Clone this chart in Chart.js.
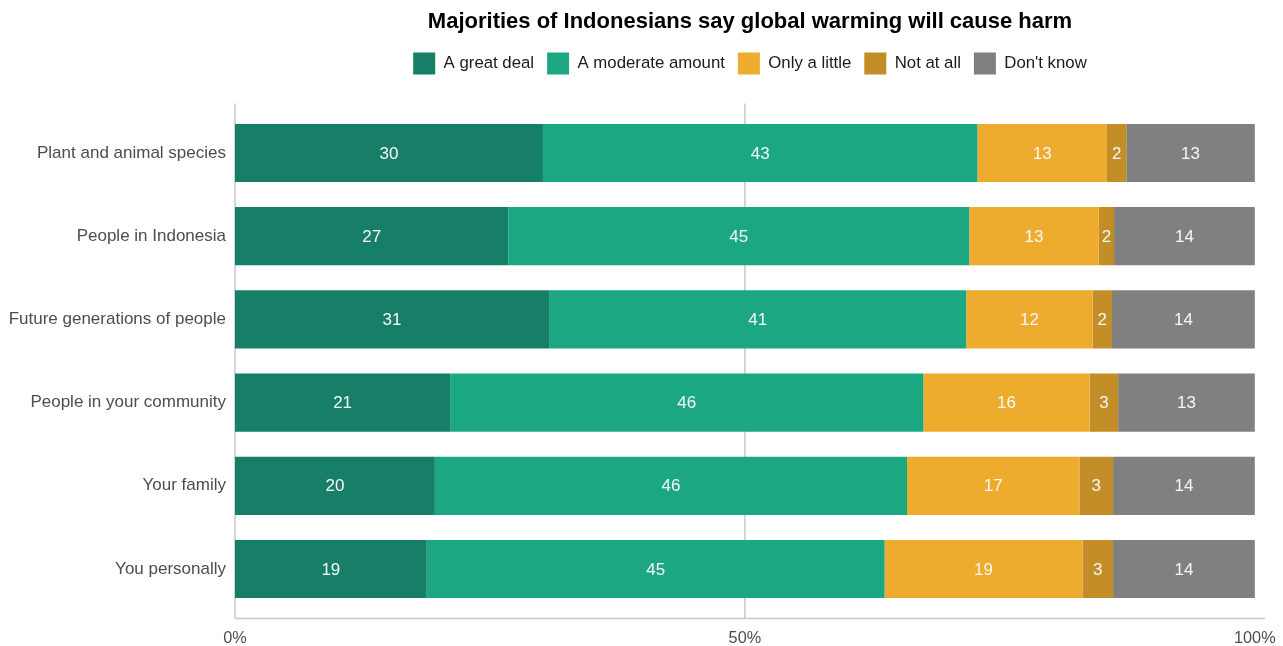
<!DOCTYPE html>
<html>
<head>
<meta charset="utf-8">
<script src="https://cdn.jsdelivr.net/npm/chart.js@4/dist/chart.umd.min.js"></script>
<style>
  html, body { margin: 0; padding: 0; background: #fff; }
  #wrap { width: 1283px; height: 646px; }
</style>
</head>
<body>
<div id="wrap"><canvas id="harmChart"></canvas></div>
<script>
// categories and shares (%)
const categories = [
  'Plant and animal species',
  'People in Indonesia',
  'Future generations of people',
  'People in your community',
  'Your family',
  'You personally'
];
const greatDeal  = [30.2, 26.8, 30.8, 21.1, 19.6, 18.8];
const moderate   = [42.6, 45.2, 40.9, 46.4, 46.3, 44.9];
const onlyLittle = [12.7, 12.7, 12.4, 16.3, 16.9, 19.4];
const notAtAll   = [1.9, 1.5, 1.9, 2.8, 3.3, 3.0];
const dontKnow   = [12.6, 13.8, 14.0, 13.4, 13.9, 13.9];
const xTicks = [0, 50, 100];

const FONT = "'Liberation Sans', Arial, Helvetica, sans-serif";

// axis lines + 50% rule, a bit longer than the bars like the original
const axisLines = {
  id: 'axisLines',
  beforeDatasetsDraw(chart) {
    const {ctx, chartArea, scales} = chart;
    const x0 = scales.x.getPixelForValue(0);
    const xMid = scales.x.getPixelForValue(50);
    const top = chartArea.top - 8;
    const bottom = chartArea.bottom + 8;
    ctx.save();
    ctx.strokeStyle = '#c8c8c8';
    ctx.lineWidth = 1.5;
    ctx.beginPath();
    ctx.moveTo(x0, top); ctx.lineTo(x0, bottom);
    ctx.moveTo(xMid, top); ctx.lineTo(xMid, bottom);
    ctx.moveTo(x0, bottom); ctx.lineTo(chartArea.right, bottom);
    ctx.stroke();
    ctx.restore();
  }
};

// rounded value in the middle of each segment
const segmentLabels = {
  id: 'segmentLabels',
  afterDatasetsDraw(chart) {
    const {ctx} = chart;
    ctx.save();
    ctx.font = '17px ' + FONT;
    ctx.fillStyle = '#f7f7f7';
    ctx.textAlign = 'center';
    ctx.textBaseline = 'middle';
    chart.data.datasets.forEach((ds, i) => {
      chart.getDatasetMeta(i).data.forEach((bar, j) => {
        const cx = (bar.x + bar.base) / 2;
        ctx.fillText(String(Math.round(ds.data[j])), cx, bar.y + 1);
      });
    });
    ctx.restore();
  }
};

// extra white space under the legend
const legendGap = {
  id: 'legendGap',
  afterInit(chart) {
    const lg = chart.legend;
    if (!lg || lg._gapPatched) return;
    const fit = lg.fit;
    lg.fit = function () {
      fit.call(this);
      this.height += 27;
    };
    lg._gapPatched = true;
  }
};

const ctx = document.getElementById('harmChart').getContext('2d');
const harmChart = new Chart(ctx, {
  type: 'bar',
  data: {
    labels: categories,
    datasets: [
      { label: 'A great deal', data: greatDeal, backgroundColor: '#177f67' },
      { label: 'A moderate amount', data: moderate, backgroundColor: '#1ca783' },
      { label: 'Only a little', data: onlyLittle, backgroundColor: '#edac2e' },
      { label: 'Not at all', data: notAtAll, backgroundColor: '#c38e28' },
      { label: "Don't know", data: dontKnow, backgroundColor: '#808080' }
    ]
  },
  options: {
    indexAxis: 'y',
    responsive: true,
    maintainAspectRatio: false,
    animation: false,
    datasets: {
      bar: {
        categoryPercentage: 1,
        barPercentage: 0.7,
        borderWidth: 0
      }
    },
    layout: {
      padding: 0
    },
    plugins: {
      title: {
        display: true,
        fullSize: false,
        text: 'Majorities of Indonesians say global warming will cause harm',
        color: '#000',
        font: { family: FONT, size: 22, weight: 'bold' },
        padding: { top: 9, bottom: 4 }
      },
      legend: {
        display: true,
        fullSize: false,
        labels: {
          boxWidth: 22,
          boxHeight: 22,
          padding: 13,
          color: '#1a1a1a',
          font: { family: FONT, size: 16.8 }
        }
      },
      tooltip: { enabled: false }
    },
    scales: {
      x: {
        stacked: true,
        min: 0,
        max: 101,
        afterBuildTicks(scale) {
          scale.ticks = xTicks.map(v => ({ value: v }));
        },
        afterFit(scale) {
          scale.paddingLeft = 0;
          scale.paddingRight = 18;
          scale.height = 35.4;
        },
        grid: { display: false, drawTicks: false },
        border: { display: false },
        ticks: {
          padding: 18,
          color: '#4d4d4d',
          font: { family: FONT, size: 16.3 },
          maxRotation: 0,
          callback: v => v + '%'
        }
      },
      y: {
        stacked: true,
        afterFit(scale) {
          scale.width = 235;
          scale.paddingTop = 111.4;
          scale.paddingBottom = 0;
        },
        grid: { display: false, drawTicks: false },
        border: { display: false },
        ticks: {
          padding: 9,
          color: '#4d4d4d',
          font: { family: FONT, size: 17 }
        }
      }
    }
  },
  plugins: [axisLines, segmentLabels, legendGap]
});
</script>
</body>
</html>
